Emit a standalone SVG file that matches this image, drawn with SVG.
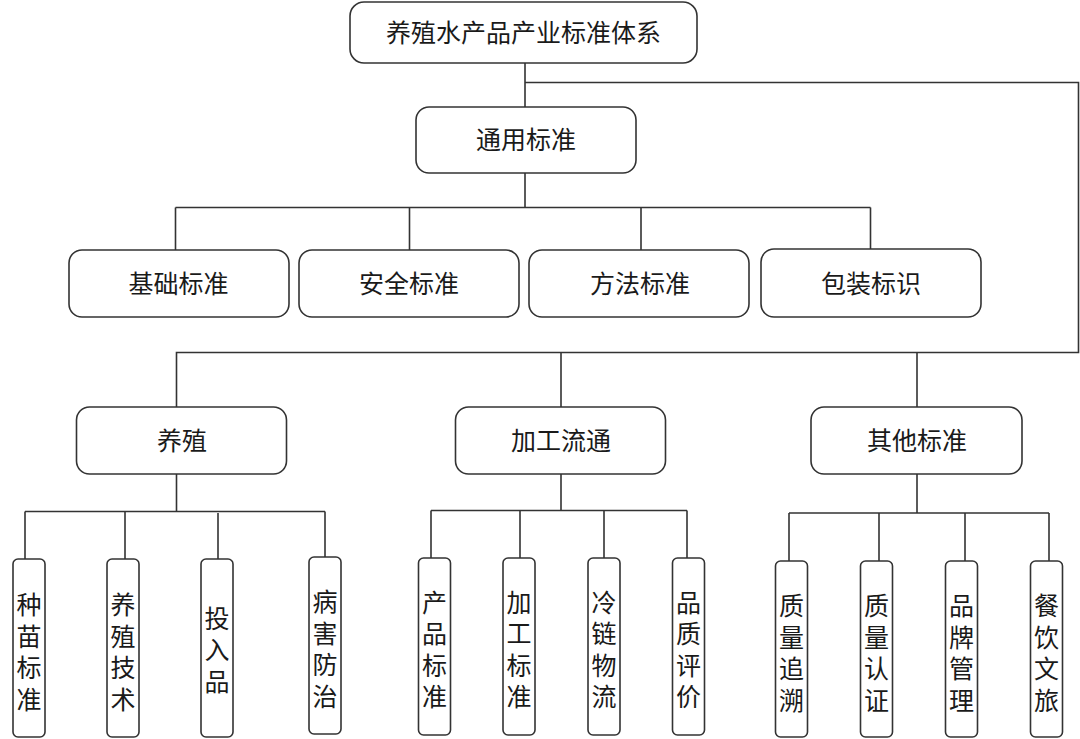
<svg xmlns="http://www.w3.org/2000/svg" width="1080" height="739" viewBox="0 0 1080 739">
<style>
.box{fill:#fff;stroke:#333;stroke-width:1.6}
.ln{fill:none;stroke:#333;stroke-width:1.6}
text{font-family:"Noto Sans CJK SC","Noto Sans",sans-serif;font-size:25px;fill:#1a1a1a;text-anchor:middle}
.v{writing-mode:vertical-rl;letter-spacing:6.5px}
</style>
<rect width="1080" height="739" fill="#fff"/>
<g id="connectors">
<path class="ln" d="M525 63V107M525 82.5H1078.5V352.5H176.5V407M561 352.5V407M917 352.5V407"/>
<path class="ln" d="M525 173V207.5M175.5 207.5H870.5M175.5 207.5V250M409.5 207.5V250M641 207.5V250M870.5 207.5V249"/>
<path class="ln" d="M176.5 474V511.5M25 511.5H325M25 511.5V559M125 511.5V559M218 513V559M325 511.5V557"/>
<path class="ln" d="M561 474V510.5M431 510.5H687M431 510.5V558M520 510.5V558M604 510.5V558M687 510.5V558"/>
<path class="ln" d="M917 474V513M789 513H1049M789 513V561M879 513V561M965 513V561M1049 513V561"/>
</g>
<g id="n-root"><rect class="box" x="350" y="2" width="347" height="61" rx="14"/><text x="523.5" y="42">养殖水产品产业标准体系</text></g>
<g id="n-general"><rect class="box" x="416" y="107" width="220" height="66" rx="13"/><text x="526" y="149">通用标准</text></g>
<g id="n-basic"><rect class="box" x="69" y="250" width="220" height="67" rx="13"/><text x="178.5" y="293">基础标准</text></g>
<g id="n-safety"><rect class="box" x="299" y="250" width="220" height="67" rx="13"/><text x="409" y="293">安全标准</text></g>
<g id="n-method"><rect class="box" x="529" y="250" width="220" height="67" rx="13"/><text x="640" y="293">方法标准</text></g>
<g id="n-pack"><rect class="box" x="761" y="249" width="220" height="68" rx="13"/><text x="871" y="293">包装标识</text></g>
<g id="n-breed"><rect class="box" x="76.5" y="407" width="210" height="67" rx="13"/><text x="182" y="450">养殖</text></g>
<g id="n-process"><rect class="box" x="455.5" y="407" width="210" height="67" rx="13"/><text x="561" y="450">加工流通</text></g>
<g id="n-other"><rect class="box" x="811" y="407" width="211" height="67" rx="13"/><text x="917" y="450">其他标准</text></g>

<g id="l-1"><rect class="box" x="13" y="559" width="32" height="178" rx="5"/><text class="v" x="29" y="655">种苗标准</text></g>
<g id="l-2"><rect class="box" x="107" y="559" width="32" height="178" rx="5"/><text class="v" x="123" y="655">养殖技术</text></g>
<g id="l-3"><rect class="box" x="201" y="559" width="32" height="178" rx="5"/><text class="v" x="217" y="653">投入品</text></g>
<g id="l-4"><rect class="box" x="309" y="557" width="32" height="177" rx="5"/><text class="v" x="325" y="652">病害防治</text></g>

<g id="l-5"><rect class="box" x="418.5" y="558" width="32" height="177" rx="5"/><text class="v" x="434.5" y="652.5">产品标准</text></g>
<g id="l-6"><rect class="box" x="503" y="558" width="32" height="177" rx="5"/><text class="v" x="519" y="652.5">加工标准</text></g>
<g id="l-7"><rect class="box" x="588" y="558" width="32" height="177" rx="5"/><text class="v" x="604" y="652.5">冷链物流</text></g>
<g id="l-8"><rect class="box" x="672.5" y="558" width="32" height="177" rx="5"/><text class="v" x="688.5" y="652.5">品质评价</text></g>

<g id="l-9"><rect class="box" x="775.5" y="561" width="32" height="176" rx="5"/><text class="v" x="791.5" y="656">质量追溯</text></g>
<g id="l-10"><rect class="box" x="860.5" y="561" width="32" height="176" rx="5"/><text class="v" x="876.5" y="656">质量认证</text></g>
<g id="l-11"><rect class="box" x="945.5" y="561" width="32" height="176" rx="5"/><text class="v" x="961.5" y="656">品牌管理</text></g>
<g id="l-12"><rect class="box" x="1030.5" y="561" width="32" height="176" rx="5"/><text class="v" x="1046.5" y="656">餐饮文旅</text></g>
</svg>
